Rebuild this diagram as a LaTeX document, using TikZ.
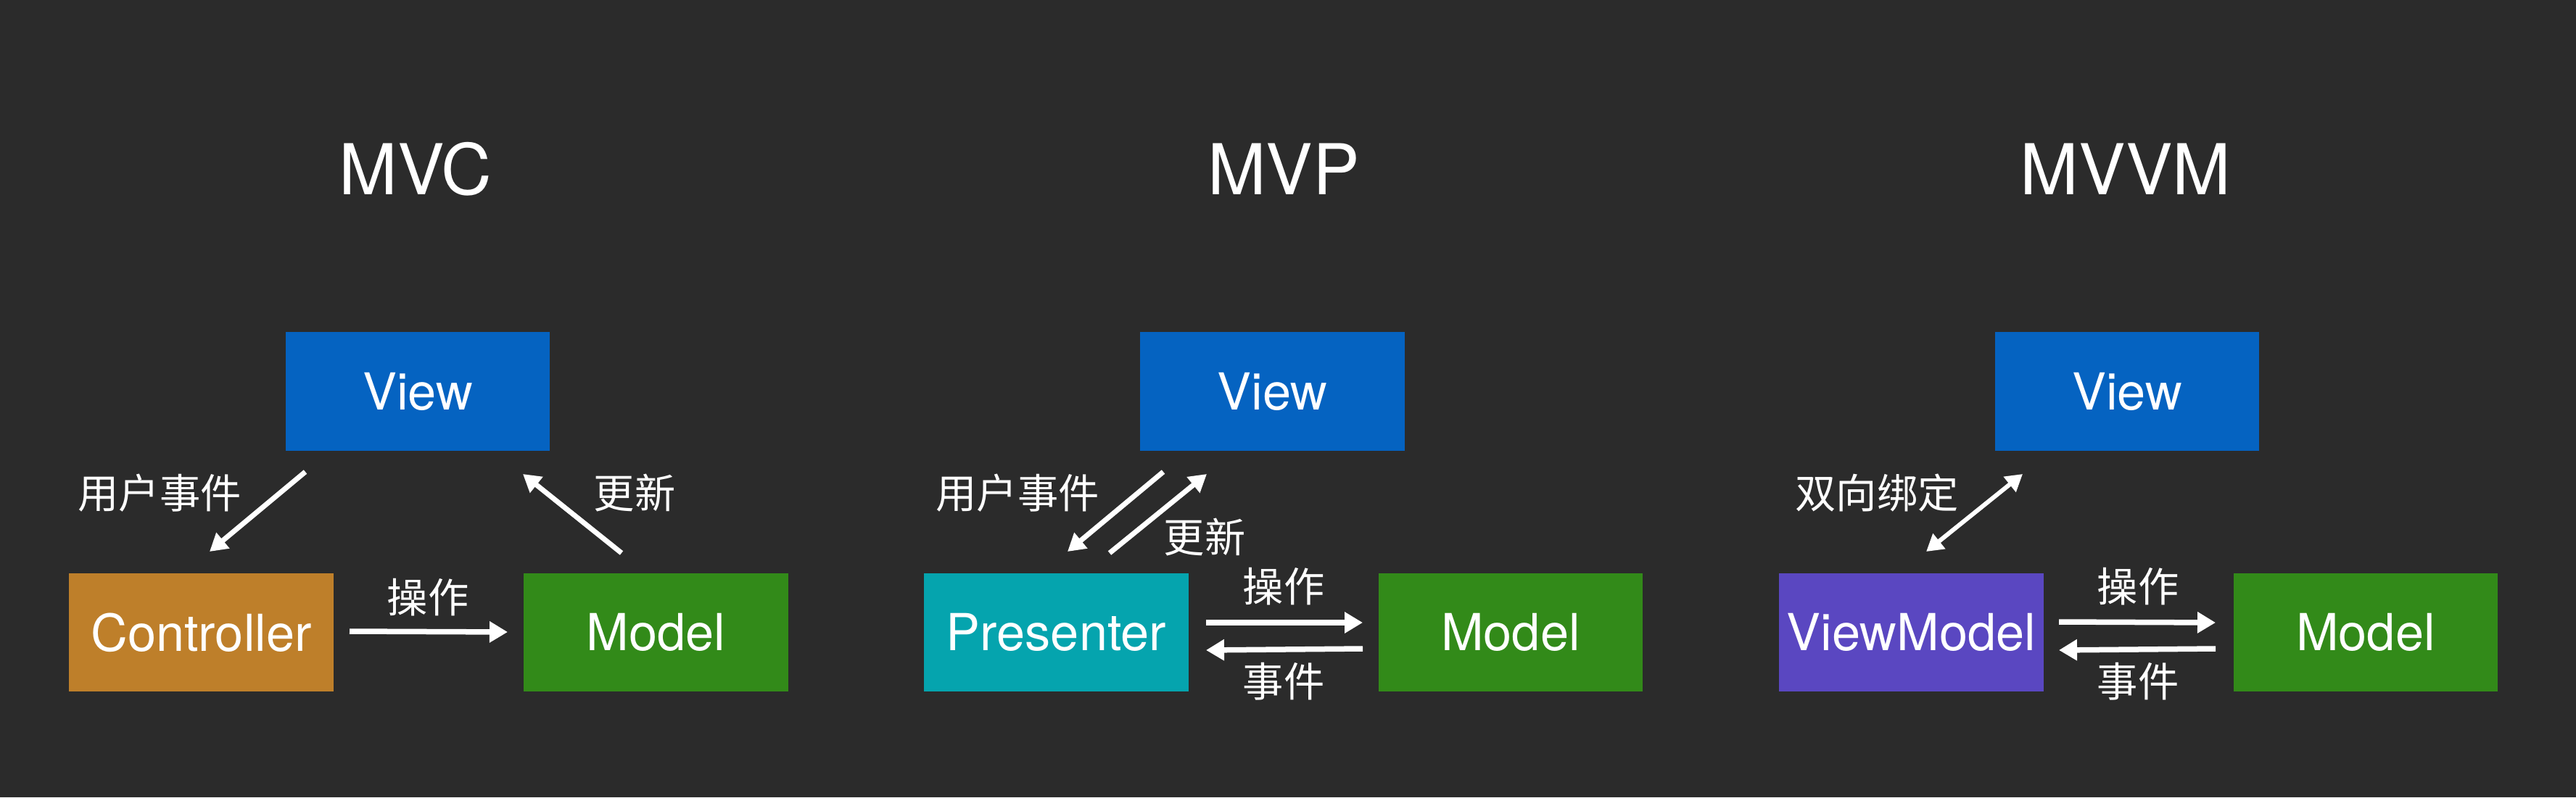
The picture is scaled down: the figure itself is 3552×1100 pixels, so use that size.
\documentclass[tikz,border=0pt]{standalone}
\usepackage{fontspec}
\setmainfont{TeX Gyre Heros}
\newfontfamily\cjk{Noto Sans CJK SC}
\usetikzlibrary{arrows.meta}
\definecolor{bg}{HTML}{2B2B2B}
\definecolor{viewblue}{HTML}{0563C1}
\definecolor{ctrlorange}{HTML}{BE7F2A}
\definecolor{modelgreen}{HTML}{328A19}
\definecolor{presteal}{HTML}{05A4AE}
\definecolor{vmpurple}{HTML}{5A47C1}
\begin{document}
\begin{tikzpicture}[x=0.01cm,y=-0.01cm,
  box/.style={minimum width=3.64cm, minimum height=1.63cm, inner sep=0pt, text=white, font=\fontsize{20}{24}\selectfont},
  title/.style={text=white, font=\fontsize{27.5}{32}\selectfont, inner sep=0pt},
  lab/.style={text=white, font=\cjk\fontsize{16}{19}\selectfont, inner sep=0pt},
  arr/.style={draw=white, line width=0.075cm, -{Triangle[length=0.25cm,width=0.28cm]}},
  darr/.style={draw=white, line width=0.07cm, -{Triangle[length=0.24cm,width=0.27cm]}},
  biarr/.style={draw=white, line width=0.06cm, {Triangle[length=0.23cm,width=0.26cm]}-{Triangle[length=0.23cm,width=0.26cm]}}]
\useasboundingbox (0,0) rectangle (3552,1100);
\fill[bg] (0,0) rectangle (3552,1100);

% Titles
\node[title] (tmvc) at (573,233) {MVC};
\node[title] (tmvp) at (1770,233) {MVP};
\node[title] (tmvvm) at (2931,233) {MVVM};

% ---------- MVC ----------
\node[box, fill=viewblue] (v1) at (576,540) {View};
\node[box, fill=ctrlorange] (c1) at (277.5,872.5) {Controller};
\node[box, fill=modelgreen] (m1) at (904.5,872.5) {Model};
\coordinate (a1s) at (421,651);
\coordinate (a1e) at (289,761);
\coordinate (a2s) at (857,763);
\coordinate (a2e) at (721,654);
\coordinate (a3s) at (482,871);
\coordinate (a3e) at (700,872);
\draw[darr] (a1s) -- (a1e);
\draw[darr] (a2s) -- (a2e);
\draw[arr] (a3s) -- (a3e);
\node[lab] (l1) at (220,680) {用户事件};
\node[lab] (l2) at (875,680) {更新};
\node[lab] (l3) at (590,824) {操作};

% ---------- MVP ----------
\node[box, fill=viewblue] (v2) at (1754.5,540) {View};
\node[box, fill=presteal] (p2) at (1456.5,872.5) {Presenter};
\node[box, fill=modelgreen] (m2) at (2083,872.5) {Model};
\coordinate (b1s) at (1604,651);
\coordinate (b1e) at (1472,761);
\coordinate (b2s) at (1530,763);
\coordinate (b2e) at (1664,654);
\coordinate (b3s) at (1663,859);
\coordinate (b3e) at (1879,859);
\coordinate (b4s) at (1879,895);
\coordinate (b4e) at (1663,897);
\draw[darr] (b1s) -- (b1e);
\draw[darr] (b2s) -- (b2e);
\draw[arr] (b3s) -- (b3e);
\draw[arr] (b4s) -- (b4e);
\node[lab] (k1) at (1403,680) {用户事件};
\node[lab] (k2) at (1661,741) {更新};
\node[lab] (k3) at (1770,809) {操作};
\node[lab] (k4) at (1770,940) {事件};

% ---------- MVVM ----------
\node[box, fill=viewblue] (v3) at (2933,540) {View};
\node[box, fill=vmpurple] (vm3) at (2635.5,872.5) {ViewModel};
\node[box, fill=modelgreen] (m3) at (3262,872.5) {Model};
\coordinate (c1s) at (2656,761);
\coordinate (c1e) at (2789,654);
\coordinate (c3s) at (2839,858);
\coordinate (c3e) at (3055,859);
\coordinate (c4s) at (3055,895);
\coordinate (c4e) at (2839,897);
\draw[biarr] (c1s) -- (c1e);
\draw[arr] (c3s) -- (c3e);
\draw[arr] (c4s) -- (c4e);
\node[lab] (j1) at (2588,680) {双向绑定};
\node[lab] (j3) at (2948,809) {操作};
\node[lab] (j4) at (2948,940) {事件};
\end{tikzpicture}
\end{document}
